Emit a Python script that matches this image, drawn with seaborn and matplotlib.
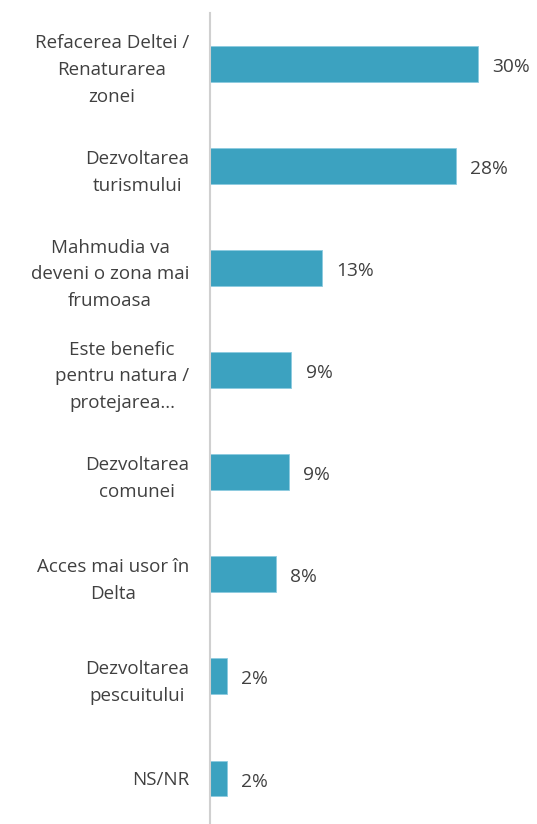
import matplotlib
matplotlib.use("Agg")
import matplotlib.pyplot as plt
import seaborn as sns
import pandas as pd

categories = [
    "Refacerea Deltei /\nRenaturarea\nzonei",
    "Dezvoltarea\nturismului",
    "Mahmudia va\ndeveni o zona mai\nfrumoasa",
    "Este benefic\npentru natura /\nprotejarea...",
    "Dezvoltarea\ncomunei",
    "Acces mai usor în\nDelta",
    "Dezvoltarea\npescuitului",
    "NS/NR",
]
values = [30.0, 27.5, 12.5, 9.1, 8.8, 7.4, 1.9, 1.9]
value_labels = ["30%", "28%", "13%", "9%", "9%", "8%", "2%", "2%"]

sns.set_theme(style="white")
plt.rcParams['font.family'] = ['Open Sans', 'DejaVu Sans']

df = pd.DataFrame({"cat": categories, "val": values})

W, H = 537, 824
fig = plt.figure(figsize=(W / 100, H / 100), dpi=100)
left_px, top_px = 210, 12.7
ax = fig.add_axes([left_px / W, 0, 1 - left_px / W, 1 - top_px / H])

sns.barplot(data=df, x="val", y="cat", color="#3CA2C0", width=0.35,
            saturation=1, ax=ax, edgecolor="#8ccbe0", linewidth=0.6)

ax.set_xlim(0, (W - left_px) / 8.93)
ax.set_ylim(-0.5 + (H - top_px) / 102.1, -0.5)

for i, (v, lab) in enumerate(zip(values, value_labels)):
    ax.text(v + 1.6, i + 0.03, lab, va="center", ha="left",
            fontsize=13.8, color="#404040")

ax.set_xlabel("")
ax.set_ylabel("")
ax.set_xticks([])
ax.set_yticks(range(len(categories)))
ax.set_yticklabels(categories, fontsize=13.5, color="#404040",
                   multialignment="center", linespacing=1.62)
ax.tick_params(axis="y", length=0, pad=15)
for s in ["top", "right", "bottom"]:
    ax.spines[s].set_visible(False)
ax.spines["left"].set_color("#d0d0d0")
ax.spines["left"].set_linewidth(1.5)

fig.savefig("out.png", dpi=100)
